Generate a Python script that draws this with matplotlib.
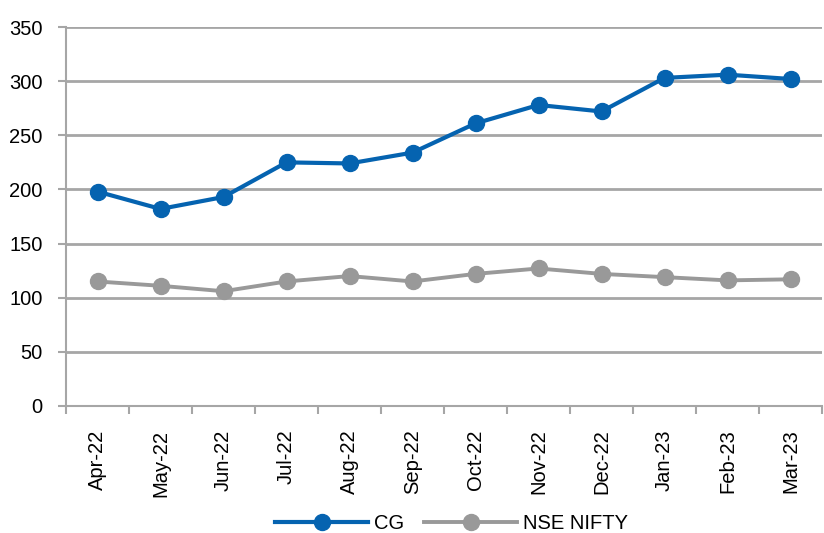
import matplotlib
matplotlib.use("Agg")
import matplotlib.pyplot as plt
import numpy as np

months = ["Apr-22", "May-22", "Jun-22", "Jul-22", "Aug-22", "Sep-22",
          "Oct-22", "Nov-22", "Dec-22", "Jan-23", "Feb-23", "Mar-23"]
cg = [198, 182, 193, 225, 224, 234, 261, 278, 272, 303, 306, 302]
nifty = [115, 111, 106, 115, 120, 115, 122, 127, 122, 119, 116, 117]
y_ticks = [0, 50, 100, 150, 200, 250, 300, 350]

BLUE = "#0563B0"
GRAY = "#999999"
GRID = "#A6A6A6"

plt.rcParams["font.family"] = ["Liberation Sans"]
FS = 14.5

fig = plt.figure(figsize=(8.24, 5.33), dpi=100)
ax = fig.add_axes([0.0801, 0.2383, 0.9175, 0.711])

x = np.arange(len(months))
ax.plot(x, cg, color=BLUE, lw=3.0, marker="o", ms=11.5, label="CG", zorder=3)
ax.plot(x, nifty, color=GRAY, lw=2.8, marker="o", ms=11.5, label="NSE NIFTY", zorder=3)

ax.set_xlim(-0.5, len(months) - 0.5)
ax.set_ylim(0, 350)
ax.set_yticks(y_ticks)
ax.set_xticks(x)
ax.set_xticklabels(months, rotation=90, fontsize=FS)
ax.set_xticks(np.arange(-0.5, len(months)), minor=True)
ax.tick_params(axis="x", which="major", length=0, pad=17)
ax.tick_params(axis="x", which="minor", length=6, width=1.5, color=GRID)
ax.tick_params(axis="y", length=6, width=1.5, color=GRID, labelsize=FS, pad=11)

ax.grid(axis="y", color=GRID, lw=2.0)
ax.set_axisbelow(True)
for side in ("top", "right"):
    ax.spines[side].set_visible(False)
for side in ("left", "bottom"):
    ax.spines[side].set_color(GRID)
    ax.spines[side].set_linewidth(1.5)

fig.legend(loc="center", bbox_to_anchor=(0.548, 0.017), ncol=2, frameon=False,
           fontsize=FS, handlelength=4.6, handletextpad=0.3, columnspacing=1.0)

fig.savefig("out.png", dpi=100)
